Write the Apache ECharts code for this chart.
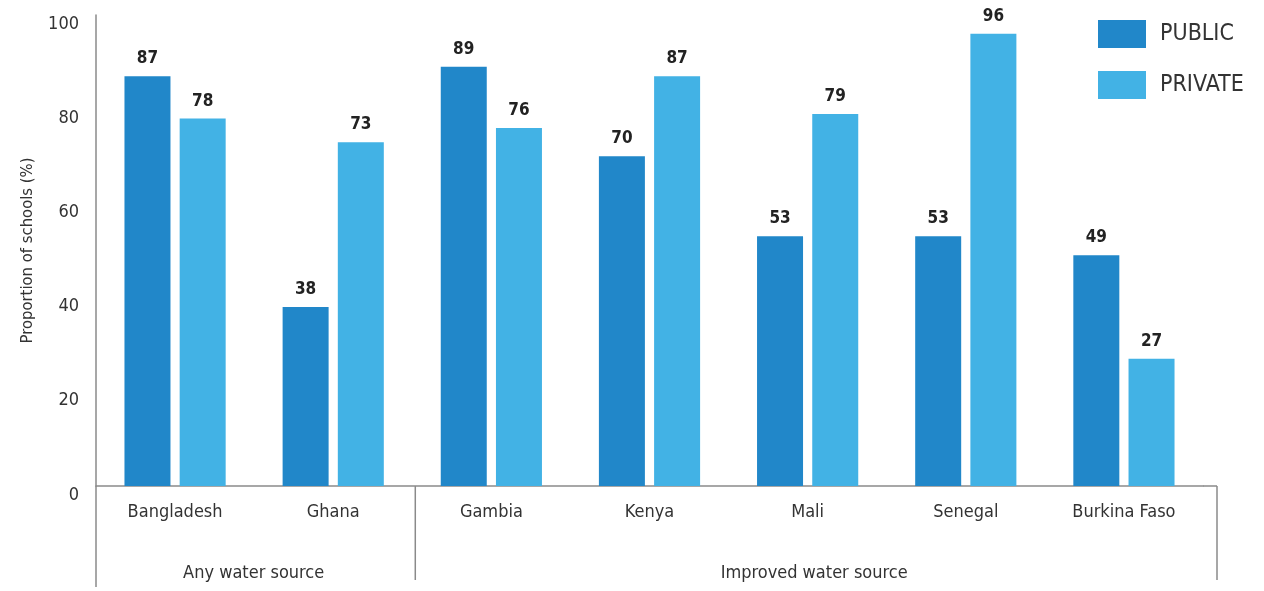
<!DOCTYPE html>
<html>
<head>
<meta charset="utf-8">
<script src="https://cdn.jsdelivr.net/npm/echarts@6/dist/echarts.min.js"></script>
<style>
  html, body { margin: 0; padding: 0; background: #fff; }
  #chart { width: 1264px; height: 591px; }
</style>
</head>
<body>
<div id="chart"></div>
<script>
// School water access by sector, per country
const categories = ['Bangladesh', 'Ghana', 'Gambia', 'Kenya', 'Mali', 'Senegal', 'Burkina Faso'];
const publicValues = [87, 38, 89, 70, 53, 53, 49];
const privateValues = [78, 73, 76, 87, 79, 96, 27];
const groupNames = ['Any water source', 'Improved water source'];
const groupSizes = [2, 5];
const yTicks = [0, 20, 40, 60, 80, 100];

const FONT = "'Liberation Sans Narrow', 'DejaVu Sans Condensed', 'Roboto Condensed', sans-serif";
const TEXT = '#333';
const LINE = '#8a8a8a';
const PUBLIC_COLOR = '#2187C9';
const PRIVATE_COLOR = '#42B2E5';

const chart = echarts.init(document.getElementById('chart'));

const valueLabel = {
  show: true,
  position: 'top',
  distance: 9,
  fontFamily: FONT,
  fontSize: 17,
  fontWeight: 'bold',
  color: '#222'
};

chart.setOption({
  animation: false,
  textStyle: { fontFamily: FONT },
  grid: { left: 96, right: 61, top: 15, bottom: 105, containLabel: false },
  legend: {
    orient: 'vertical',
    left: 1093,
    top: 15,
    itemWidth: 48,
    itemHeight: 28,
    itemGap: 23,
    icon: 'rect',
    textStyle: { fontFamily: FONT, fontSize: 23, color: TEXT, padding: [0, 0, 0, 9] },
    data: ['PUBLIC', 'PRIVATE']
  },
  xAxis: {
    type: 'category',
    data: categories,
    axisLine: { show: true, lineStyle: { color: LINE, width: 1.5 } },
    axisTick: { show: false },
    axisLabel: { fontFamily: FONT, fontSize: 18, color: TEXT, margin: 17, lineHeight: 18 }
  },
  yAxis: {
    type: 'value',
    min: yTicks[0],
    max: yTicks[yTicks.length - 1],
    interval: yTicks[1] - yTicks[0],
    name: 'Proportion of schools (%)',
    nameLocation: 'middle',
    nameGap: 60,
    nameTextStyle: { fontFamily: FONT, fontSize: 16.5, color: TEXT },
    axisLine: { show: true, lineStyle: { color: LINE, width: 1.5 } },
    axisTick: { show: false },
    splitLine: { show: false },
    axisLabel: {
      fontFamily: FONT, fontSize: 18, color: TEXT, margin: 17,
      verticalAlign: 'top', lineHeight: 18
    }
  },
  series: [
    {
      name: 'PUBLIC',
      type: 'bar',
      data: publicValues,
      barWidth: 46,
      barGap: '20%',
      itemStyle: { color: PUBLIC_COLOR },
      label: valueLabel
    },
    {
      name: 'PRIVATE',
      type: 'bar',
      data: privateValues,
      barWidth: 46,
      itemStyle: { color: PRIVATE_COLOR },
      label: valueLabel
    }
  ]
});

// Bracket lines and group captions under the category axis
function drawGroups() {
  const base = chart.convertToPixel({ yAxisIndex: 0 }, 0);
  const first = chart.convertToPixel({ xAxisIndex: 0 }, categories[0]);
  const second = chart.convertToPixel({ xAxisIndex: 0 }, categories[1]);
  const step = second - first;
  const leftEdge = first - step / 2;
  const rightEdge = leftEdge + step * categories.length;
  const axisEnd = rightEdge + 14;
  const bracketBottom = base + 94;
  const captionY = base + 87;

  const elements = [
    // baseline continues a little past the last category
    { type: 'line', shape: { x1: rightEdge, y1: base, x2: axisEnd, y2: base },
      style: { stroke: LINE, lineWidth: 1.5 } },
    // y axis continues down through the bracket area
    { type: 'line', shape: { x1: leftEdge, y1: base, x2: leftEdge, y2: base + 101 },
      style: { stroke: LINE, lineWidth: 1.5 } },
    { type: 'line', shape: { x1: axisEnd, y1: base, x2: axisEnd, y2: bracketBottom },
      style: { stroke: LINE, lineWidth: 1.5 } }
  ];

  let startIdx = 0;
  groupNames.forEach((name, g) => {
    const endIdx = startIdx + groupSizes[g];
    const x0 = g === 0 ? leftEdge : leftEdge + step * startIdx + 3;
    const x1 = g === groupNames.length - 1 ? axisEnd : leftEdge + step * endIdx + 3;
    if (g > 0) {
      elements.push({ type: 'line', shape: { x1: x0, y1: base, x2: x0, y2: bracketBottom },
        style: { stroke: LINE, lineWidth: 1.5 } });
    }
    elements.push({
      type: 'text',
      x: (x0 + x1) / 2 - 2,
      y: captionY,
      style: {
        text: name, fontFamily: FONT, fontSize: 18, fill: TEXT,
        align: 'center', verticalAlign: 'middle'
      }
    });
    startIdx = endIdx;
  });

  chart.setOption({ graphic: elements });
}
drawGroups();
</script>
</body>
</html>
